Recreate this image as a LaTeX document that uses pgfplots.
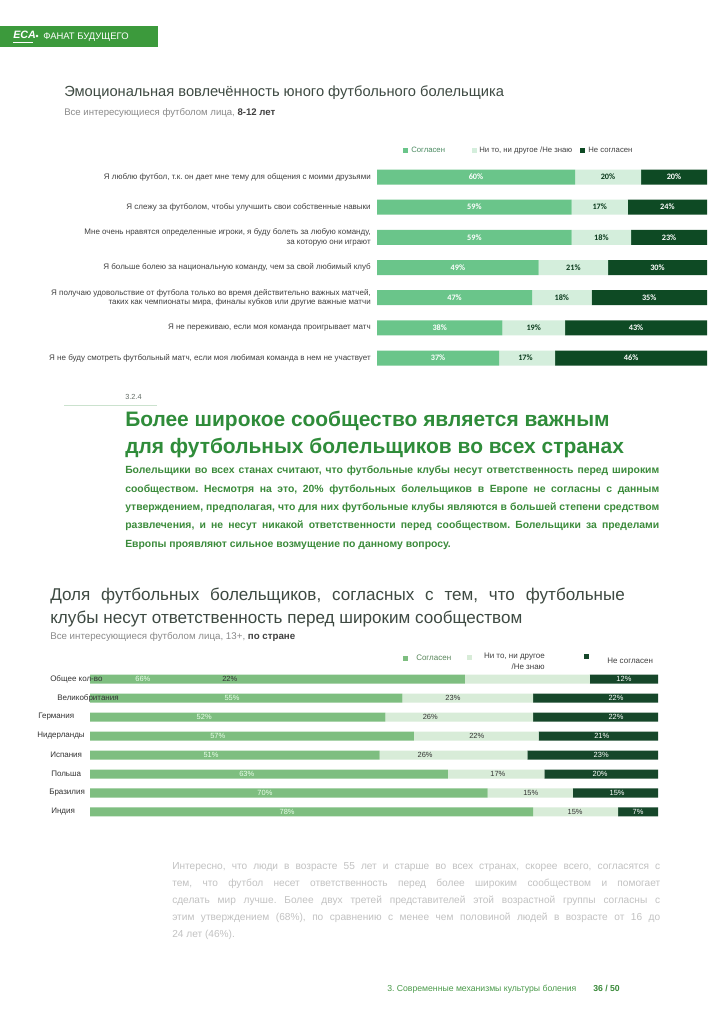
\documentclass[border=0pt]{standalone}
\usepackage{pgfplots}
\pgfplotsset{compat=1.18}
\usepackage{pgfplotstable}
\usepackage{fontspec}
\setmainfont{Liberation Sans}
\newfontfamily\carlito{Carlito}
\definecolor{hdr}{HTML}{3C9A3C}
\definecolor{gA}{HTML}{6AC58A}
\definecolor{gB}{HTML}{D4EEDC}
\definecolor{gC}{HTML}{0E4A24}
\definecolor{kA}{HTML}{7EBE80}
\definecolor{kB}{HTML}{D8ECD8}
\definecolor{kC}{HTML}{16472A}
\definecolor{head}{HTML}{2F8C3A}
\definecolor{para}{HTML}{3B8B3B}
\definecolor{ttl}{HTML}{3E4A42}
\definecolor{sub}{HTML}{8A8A8A}
\definecolor{lab}{HTML}{404040}
\definecolor{foot}{HTML}{C2C2C2}
\definecolor{ftg}{HTML}{4A9A4A}
\newcommand\fs[1]{\fontsize{#1}{#1}\selectfont}

\pgfplotstableread{
row a b c la lb lc
0 60 20 20 30 70 90
1 59 17 24 29.5 67.5 88
2 59 18 23 29.5 68 88.5
3 49 21 30 24.5 59.5 85
4 47 18 35 23.5 56 82.5
5 38 19 43 19 47.5 78.5
6 37 17 46 18.5 45 77
}\emotable

\pgfplotstableread{
row a b c la lb lc
0 66 22 12 9.3 24.6 94.0
1 55 23 22 25.0 63.9 92.6
2 52 26 22 20.1 59.9 92.6
3 57 22 21 22.5 68.1 90.1
4 51 26 23 21.3 59.0 90.0
5 63 17 20 27.6 71.8 89.8
6 70 15 15 30.8 77.6 92.8
7 78 15 7 34.7 85.4 96.5
}\ctable

\begin{document}
\frenchspacing
\begin{tikzpicture}
\useasboundingbox (0,0) rectangle (542.25pt,-768pt);
\fill[white] (0,0) rectangle (542.25pt,-768pt);
\begin{scope}[x=0.75pt,y=-0.75pt, every node/.style={inner sep=0pt}]
% header
\fill[hdr] (0,26) rectangle (158,47);
\node[anchor=base west, text=white, font=\bfseries\itshape\fs{8}] at (13,39) {ECA};
\draw[white, line width=0.4pt] (13,42) -- (33,42);
\fill[white] (37,36) circle (1.3);
\node[anchor=base west, text=white, font=\fs{7.1}] at (43,40) {ФАНАТ БУДУЩЕГО};
% title 1
\node[anchor=base west, text=ttl, font=\fs{11}] at (64,97) {Эмоциональная вовлечённость юного футбольного болельщика};
\node[anchor=base west, text=sub, font=\fs{7.2}] at (64,115) {Все интересующиеся футболом лица, \textcolor{lab}{\bfseries 8-12 лет}};
% legend 1
\fill[gA] (403,147.5) rectangle (408,152.5);
\node[anchor=west, text=gA!70!black, font=\fs{5.8}] at (411,150) {Согласен};
\fill[gB] (472,147.5) rectangle (477,152.5);
\node[anchor=west, text=lab, font=\fs{5.8}] at (479,150) {Ни то, ни другое /Не знаю};
\fill[gC] (580,147.5) rectangle (585,152.5);
\node[anchor=west, text=lab, font=\fs{5.8}] at (588,150) {Не согласен};
% section
\node[anchor=base west, text=ttl!80, font=\fs{5.5}] at (125,399) {3.2.4};
\draw[color=head!25, line width=0.75pt] (64,405) -- (157,405);
\node[anchor=base west, text=head, font=\bfseries\fs{15.7}] at (125,426) {Более широкое сообщество является важным};
\node[anchor=base west, text=head, font=\bfseries\fs{15.7}] at (125,453) {для футбольных болельщиков во всех странах};
\begin{scope}[every node/.style={anchor=base west, text=para, font=\bfseries\fs{7.8}, inner sep=0pt}]
\node at (125,473.5) {\makebox[400.5pt][s]{Болельщики во всех станах считают, что футбольные клубы несут ответственность перед широким}};
\node at (125,492) {\makebox[400.5pt][s]{сообществом. Несмотря на это, 20\% футбольных болельщиков в Европе не согласны с данным}};
\node at (125,510.3) {\makebox[400.5pt][s]{утверждением, предполагая, что для них футбольные клубы являются в большей степени средством}};
\node at (125,528.7) {\makebox[400.5pt][s]{развлечения, и не несут никакой ответственности перед сообществом. Болельщики за пределами}};
\node at (125,547) {Европы проявляют сильное возмущение по данному вопросу.};
\end{scope}
% title 2
\node[anchor=base west, text=ttl, font=\fs{12.8}] at (50,600) {\makebox[431pt][s]{Доля футбольных болельщиков, согласных с тем, что футбольные}};
\node[anchor=base west, text=ttl, font=\fs{12.8}] at (50,623) {клубы несут ответственность перед широким сообществом};
\node[anchor=base west, text=sub, font=\fs{7.3}] at (50,639) {Все интересующиеся футболом лица, 13+, \textcolor{lab}{\bfseries по стране}};
% legend 2
\fill[kA] (403,655.5) rectangle (408,660.5);
\node[anchor=west, text=kA!70!black, font=\fs{6}] at (416,658) {Согласен};
\fill[kB] (467,654.5) rectangle (472,659.5);
\node[anchor=east, text=lab, font=\fs{6}] at (545,657) {Ни то, ни другое};
\node[anchor=east, text=lab, font=\fs{6}] at (545,667) {/Не знаю};
\fill[kC] (584,653.5) rectangle (589,658.5);
\node[anchor=west, text=lab, font=\fs{6}] at (607,661) {Не согласен};
% footer paragraph
\begin{scope}[every node/.style={anchor=base west, text=foot, font=\fs{7.6}, inner sep=0pt}]
\node at (172,869) {\makebox[366pt][s]{Интересно, что люди в возрасте 55 лет и старше во всех странах, скорее всего, согласятся с}};
\node at (172,886) {\makebox[366pt][s]{тем, что футбол несет ответственность перед более широким сообществом и помогает}};
\node at (172,903) {\makebox[366pt][s]{сделать мир лучше. Более двух третей представителей этой возрастной группы согласны с}};
\node at (172,920) {\makebox[366pt][s]{этим утверждением (68\%), по сравнению с менее чем половиной людей в возрасте от 16 до}};
\node at (172,937) {24 лет (46\%).};
\end{scope}
\node[anchor=base west, text=ftg, font=\fs{6.5}] at (387,991) {3. Современные механизмы культуры боления};
\node[anchor=base west, text=para, font=\bfseries\fs{6.5}] at (593,991) {36 / 50};
\end{scope}

% ---------- chart 1 ----------
\pgfplotsset{emo/.style={
  at={(282.75pt,-121.44pt)}, anchor=north west,
  scale only axis, width=247.5pt, height=158.38pt,
  xmin=0, xmax=100, ymin=-0.5, ymax=6.5, y dir=reverse,
  axis line style={draw=none}, xtick=\empty, major tick length=0pt}}
\begin{axis}[emo, xbar stacked, bar width=11.25pt,
  ytick={0,...,6},
  yticklabels={{Я люблю футбол, т.к. он дает мне тему для общения с моими друзьями},
    {Я слежу за футболом, чтобы улучшить свои собственные навыки},
    {Мне очень нравятся определенные игроки, я буду болеть за любую команду,\\за которую они играют},
    {Я больше болею за национальную команду, чем за свой любимый клуб},
    {Я получаю удовольствие от футбола только во время действительно важных матчей,\\таких как чемпионаты мира, финалы кубков или другие важные матчи},
    {Я не переживаю, если моя команда проигрывает матч},
    {Я не буду смотреть футбольный матч, если моя любимая команда в нем не участвует}},
  yticklabel style={align=right, font=\fontsize{6}{7}\selectfont, text=lab, inner sep=0pt, xshift=-4.5pt}]
\addplot[fill=gA, draw=none] table[x=a, y=row] {\emotable};
\addplot[fill=gB, draw=none] table[x=b, y=row] {\emotable};
\addplot[fill=gC, draw=none] table[x=c, y=row] {\emotable};
\end{axis}
\begin{axis}[emo, hide axis]
\addplot[only marks, mark=*, mark size=0pt, mark options={draw=none,fill=none}, point meta=explicit symbolic,
  nodes near coords={\pgfplotspointmeta\%}, every node near coord/.append style={anchor=center, text=white, font=\carlito\bfseries\fs{6.2}}]
  table[x=la, y=row, meta=a] {\emotable};
\addplot[only marks, mark=*, mark size=0pt, mark options={draw=none,fill=none}, point meta=explicit symbolic,
  nodes near coords={\pgfplotspointmeta\%}, every node near coord/.append style={anchor=center, text=gC!80!black, font=\carlito\bfseries\fs{6.2}}]
  table[x=lb, y=row, meta=b] {\emotable};
\addplot[only marks, mark=*, mark size=0pt, mark options={draw=none,fill=none}, point meta=explicit symbolic,
  nodes near coords={\pgfplotspointmeta\%}, every node near coord/.append style={anchor=center, text=white, font=\carlito\bfseries\fs{6.2}}]
  table[x=lc, y=row, meta=c] {\emotable};
\end{axis}

% ---------- chart 2 ----------
\pgfplotsset{cty/.style={
  at={(67.5pt,-502.125pt)}, anchor=north west,
  scale only axis, width=426pt, height=114pt,
  xmin=0, xmax=100, ymin=-0.5, ymax=7.5, y dir=reverse,
  axis line style={draw=none}, xtick=\empty, ytick=\empty, major tick length=0pt}}
\begin{axis}[cty, xbar stacked, bar width=6.75pt]
\addplot[fill=kA, draw=none] table[x=a, y=row] {\ctable};
\addplot[fill=kB, draw=none] table[x=b, y=row] {\ctable};
\addplot[fill=kC, draw=none] table[x=c, y=row] {\ctable};
\end{axis}
\begin{axis}[cty, hide axis]
\addplot[only marks, mark=*, mark size=0pt, mark options={draw=none,fill=none}, point meta=explicit symbolic,
  nodes near coords={\pgfplotspointmeta\%}, every node near coord/.append style={anchor=center, text=white!92!green, font=\fs{5.6}}]
  table[x=la, y=row, meta=a] {\ctable};
\addplot[only marks, mark=*, mark size=0pt, mark options={draw=none,fill=none}, point meta=explicit symbolic,
  nodes near coords={\pgfplotspointmeta\%}, every node near coord/.append style={anchor=center, text=black!80, font=\fs{5.6}}]
  table[x=lb, y=row, meta=b] {\ctable};
\addplot[only marks, mark=*, mark size=0pt, mark options={draw=none,fill=none}, point meta=explicit symbolic,
  nodes near coords={\pgfplotspointmeta\%}, every node near coord/.append style={anchor=center, text=white, font=\fs{5.6}}]
  table[x=lc, y=row, meta=c] {\ctable};
\end{axis}

% chart 2 category labels (drawn over bars)
\begin{scope}[x=0.75pt,y=-0.75pt, every node/.style={inner sep=0pt, anchor=west, text=black!80, font=\fs{6}}]
\node at (50,679) {Общее кол-во};
\node at (57,698) {Великобритания};
\node at (38,717) {Германия};
\node at (37,736) {Нидерланды};
\node at (50,755) {Испания};
\node at (51,774) {Польша};
\node at (49,793) {Бразилия};
\node at (51,812) {Индия};
\end{scope}
\end{tikzpicture}
\end{document}
